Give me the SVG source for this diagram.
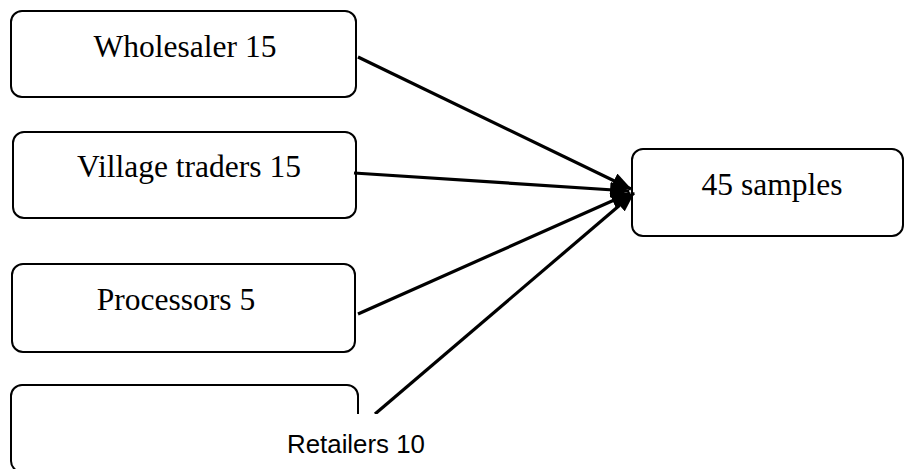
<svg xmlns="http://www.w3.org/2000/svg" width="904" height="469" viewBox="0 0 904 469">
  <style>
    .box { fill: #fff; stroke: #000; stroke-width: 2; }
    .lbl { font-family: "Liberation Serif", "Times New Roman", serif; font-size: 31.5px; fill: #000; text-anchor: middle; }
    .lbl2 { font-family: "Liberation Sans", Arial, sans-serif; font-size: 25px; fill: #000; }
    .conn { stroke: #000; stroke-width: 3.2; fill: none; marker-end: url(#ah); }
  </style>
  <defs>
    <marker id="ah" markerUnits="userSpaceOnUse" markerWidth="20" markerHeight="16" refX="19" refY="8" orient="auto">
      <path d="M0,0 L20,8 L0,16 Z" fill="#000"/>
    </marker>
  </defs>
  <rect width="904" height="469" fill="#fff"/>
  <g id="wholesaler">
    <rect class="box" x="11" y="11" width="345" height="86" rx="11"/>
    <text class="lbl" x="185" y="57">Wholesaler 15</text>
  </g>
  <g id="village-traders">
    <rect class="box" x="13" y="132" width="343" height="86" rx="11"/>
    <text class="lbl" x="189" y="177">Village traders 15</text>
  </g>
  <g id="processors">
    <rect class="box" x="12" y="264" width="343" height="88" rx="11"/>
    <text class="lbl" x="176" y="310">Processors 5</text>
  </g>
  <g id="samples">
    <rect class="box" x="632" y="149" width="271" height="87" rx="11"/>
    <text class="lbl" x="772" y="195">45 samples</text>
  </g>
  <g id="retailers-box">
    <rect class="box" x="11" y="385" width="347" height="87" rx="11"/>
  </g>
  <g id="connectors">
    <line class="conn" x1="358" y1="57" x2="631" y2="189"/>
    <line class="conn" x1="354" y1="173" x2="629" y2="191"/>
    <line class="conn" x1="358" y1="314" x2="630" y2="193"/>
    <line class="conn" x1="375" y1="414" x2="634" y2="193"/>
  </g>
  <g id="retailers">
    <rect x="270" y="414" width="180" height="55" fill="#fff"/>
    <text class="lbl2" x="287" y="453" textLength="138" lengthAdjust="spacingAndGlyphs">Retailers 10</text>
  </g>
</svg>
